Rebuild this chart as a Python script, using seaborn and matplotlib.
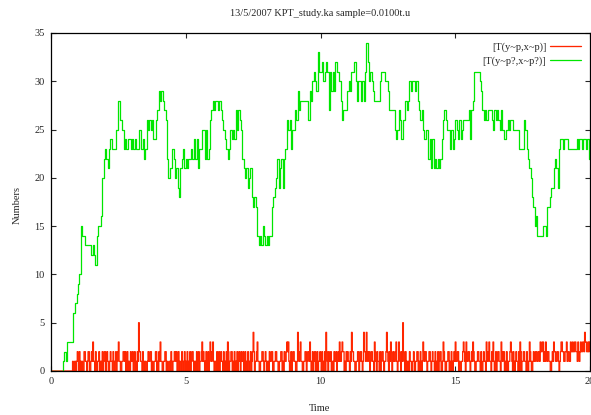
import numpy as np
import pandas as pd
import matplotlib
matplotlib.use('Agg')
import matplotlib.pyplot as plt
import seaborn as sns

green_dt = 0.05
green_rows = [
    [0, 0, 0, 0, 0, 0, 0, 0, 0, 1, 2, 1, 3, 3, 3, 3, 6, 6, 7, 8],
    [9, 10, 15, 14, 14, 13, 13, 13, 13, 13, 12, 13, 12, 11, 14, 15, 15, 16, 20, 22],
    [23, 22, 21, 23, 24, 23, 23, 23, 25, 25, 28, 26, 26, 25, 23, 24, 23, 24, 24, 23],
    [24, 23, 24, 23, 23, 25, 25, 23, 24, 22, 23, 26, 25, 26, 25, 26, 24, 24, 26, 27],
    [29, 28, 29, 28, 27, 26, 22, 20, 21, 21, 23, 22, 20, 21, 19, 18, 21, 22, 23, 21],
    [22, 21, 22, 22, 23, 22, 24, 22, 24, 21, 23, 23, 25, 25, 22, 25, 22, 23, 26, 27],
    [28, 27, 28, 28, 27, 28, 27, 26, 25, 24, 23, 22, 23, 25, 24, 25, 24, 27, 25, 27],
    [26, 25, 22, 21, 20, 21, 19, 20, 21, 18, 17, 18, 17, 14, 13, 14, 13, 15, 14, 13],
    [14, 13, 14, 14, 17, 18, 19, 20, 22, 19, 21, 22, 19, 22, 23, 26, 25, 26, 23, 25],
    [25, 27, 26, 29, 27, 28, 28, 28, 28, 28, 28, 26, 29, 28, 30, 31, 30, 29, 33, 31],
    [31, 32, 30, 31, 32, 31, 27, 31, 29, 31, 29, 32, 31, 31, 30, 28, 26, 27, 27, 27],
    [29, 30, 29, 31, 31, 32, 30, 28, 30, 30, 28, 30, 28, 31, 34, 32, 30, 31, 30, 29],
    [28, 28, 28, 28, 30, 31, 31, 31, 30, 30, 29, 27, 27, 27, 27, 25, 24, 25, 27, 26],
    [24, 26, 26, 28, 27, 28, 30, 29, 30, 30, 29, 30, 28, 27, 26, 27, 25, 24, 25, 25],
    [22, 24, 21, 24, 21, 22, 21, 22, 21, 22, 24, 26, 27, 26, 25, 25, 23, 25, 23, 24],
    [26, 25, 24, 26, 24, 25, 26, 26, 26, 26, 27, 24, 27, 28, 31, 31, 31, 31, 30, 29],
    [27, 26, 27, 26, 27, 27, 27, 26, 25, 27, 26, 27, 26, 25, 27, 25, 24, 24, 25, 26],
    [25, 26, 26, 25, 25, 25, 25, 23, 23, 23, 23, 26, 25, 23, 22, 21, 20, 18, 17, 15],
    [16, 14, 14, 14, 14, 15, 15, 14, 17, 17, 18, 19, 19, 21, 22, 21, 19, 23, 24, 24],
    [23, 24, 24, 24, 23, 23, 23, 23, 23, 23, 24, 23, 24, 24, 23, 24, 24, 23, 24, 22],
]
# red sampled every 0.025 t.u., one string of digits per time unit
red_dt = 0.025
red_rows = [
    "0000000000000000000000000000000010011012",
    "1021011002211012200121311021011201102012",
    "2012100121102101201231100112212012011021",
    "1201201021522110210110012112201001122010",
    "2131100112201001102101122120120110210120",
    "1021012012210110201201123121012012013212",
    "3101102012012110210120320112201021012012",
    "1021120120102101201242011231100112210121",
    "0110211220011221100112201021123231012012",
    "2110014212311001122012213101201220120112",
    "1021012042102112011021120121311232201021",
    "2110214221100112201221014221421220122110",
    "3210211020122101124210213201211231013210",
    "2152102101102110012101122010210132122101",
    "1221012110210120122001321001122010210121",
    "3112201001123210311221012132100112211020",
    "0121103212311021310120122110321220102101",
    "1232102101211020320112211021013210012112",
    "2112213223312132122110012132211221012332",
    "2112231221132232233221321232233243322323",
]
labels = ['[T(y~p,x~p)]', '[T(y~p?,x~p?)]']
title = '13/5/2007 KPT_study.ka sample=0.0100t.u'

green = [v for row in green_rows for v in row]
red = [int(c) for row in red_rows for c in row]
green_t = list(np.round(np.arange(len(green)) * green_dt, 3)) + [20.0]
red_t = list(np.round(np.arange(len(red)) * red_dt, 3)) + [20.0]
df_g = pd.DataFrame({'Time': green_t, 'Numbers': green + [green[-1]]})
df_r = pd.DataFrame({'Time': red_t, 'Numbers': red + [red[-1]]})

sns.set_style('ticks')
plt.rcParams['font.family'] = ['Liberation Serif', 'DejaVu Serif']
plt.rcParams['axes.linewidth'] = 0.9

fig = plt.figure(figsize=(5.91, 4.15), dpi=100)
ax = fig.add_axes([51 / 591, 1 - 371 / 415, 539 / 591, 338 / 415])

sns.lineplot(data=df_r, x='Time', y='Numbers', color='#ff2600', lw=0.95,
             drawstyle='steps-post', label=labels[0], ax=ax)
sns.lineplot(data=df_g, x='Time', y='Numbers', color='#00e600', lw=0.9,
             drawstyle='steps-post', label=labels[1], ax=ax)

ax.set_xlim(0, 20)
ax.set_ylim(0, 35)
ax.set_xticks([0, 5, 10, 15, 20])
ax.set_yticks(range(0, 36, 5))
ax.tick_params(direction='in', top=True, right=True, length=3.6, width=0.8,
               labelsize=7.5, pad=4.5)
ax.set_xlabel('')
ax.set_ylabel('')
for s in ax.spines.values():
    s.set_color('black')

fig.text(320 / 591, 1 - 13 / 415, title, ha='center', va='center', fontsize=7.5)
fig.text(320 / 591, 1 - 408 / 415, 'Time', ha='center', va='center', fontsize=7.5)
fig.text(17 / 591, 1 - 205 / 415, 'Numbers', ha='center', va='center',
         rotation=90, fontsize=7.5)

# text left of the line sample, right-aligned (gnuplot style)
ax.legend(loc='upper right', frameon=False, markerfirst=False, fontsize=7.5,
          handlelength=2.9, handletextpad=0.4, labelspacing=0.45,
          borderpad=0, borderaxespad=0.9)

fig.savefig('out.png', dpi=100)
